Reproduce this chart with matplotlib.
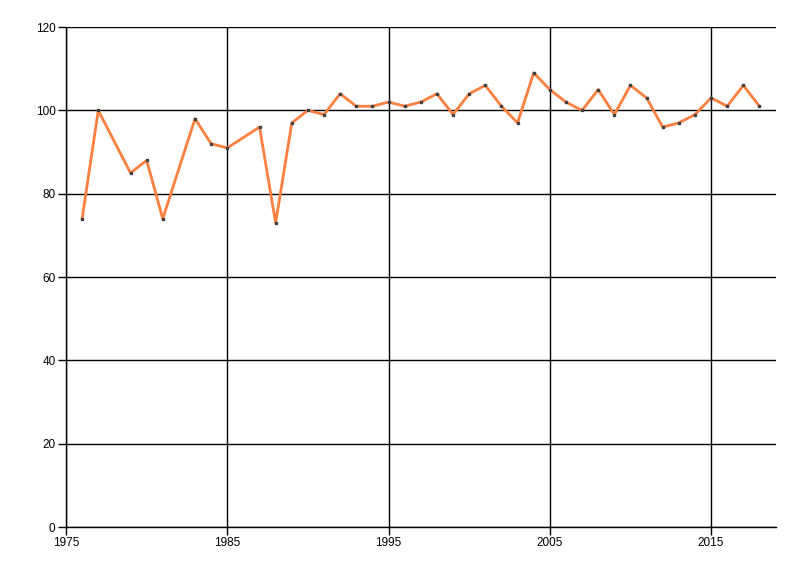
import matplotlib
matplotlib.use("Agg")
import matplotlib.pyplot as plt

years = [1976, 1977, 1979, 1980, 1981, 1983, 1984, 1985, 1987, 1988, 1989, 1990,
         1991, 1992, 1993, 1994, 1995, 1996, 1997, 1998, 1999, 2000, 2001, 2002,
         2003, 2004, 2005, 2006, 2007, 2008, 2009, 2010, 2011, 2012, 2013, 2014,
         2015, 2016, 2017, 2018]
values = [74, 100, 85, 88, 74, 98, 92, 91, 96, 73, 97, 100,
          99, 104, 101, 101, 102, 101, 102, 104, 99, 104, 106, 101,
          97, 109, 105, 102, 100, 105, 99, 106, 103, 96, 97, 99,
          103, 101, 106, 101]
x_ticks = [1975, 1985, 1995, 2005, 2015]
y_ticks = [0, 20, 40, 60, 80, 100, 120]

plt.rcParams['font.family'] = ['Liberation Sans', 'DejaVu Sans']
fig = plt.figure(figsize=(8, 5.76), dpi=100)
ax = fig.add_axes([0.0825, 0.085, 0.887, 0.868])

ax.plot(years, values, color='#FF7F3F', linewidth=2, zorder=3)
ax.plot(years, values, linestyle='none', marker='s', markersize=1.8,
        color='#404040', zorder=4)

ax.set_xlim(1975, 2019)
ax.set_ylim(0, 120)
ax.set_xticks(x_ticks)
ax.set_yticks(y_ticks)
ax.grid(True, color='black', linewidth=1, zorder=1)
ax.set_axisbelow(True)
for s in ['top', 'right']:
    ax.spines[s].set_visible(False)
for s in ['left', 'bottom']:
    ax.spines[s].set_color('black')
    ax.spines[s].set_linewidth(1)
ax.tick_params(direction='out', length=6, width=1, labelsize=8.5, pad=1.5)

fig.savefig('out.png', dpi=100)
